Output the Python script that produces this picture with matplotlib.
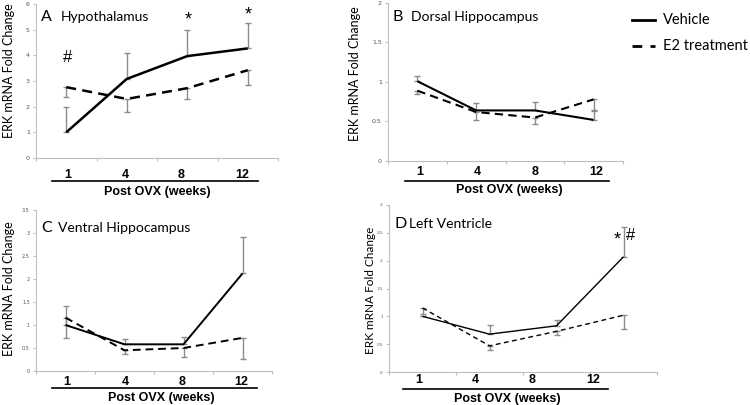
import matplotlib
matplotlib.use("Agg")
import matplotlib.pyplot as plt
from matplotlib.lines import Line2D

W, H = 750, 405

weeks = ["1", "4", "8", "12"]

# panel A - Hypothalamus
hyp_vehicle = [1.0, 3.08, 3.97, 4.27]
hyp_vehicle_err = [1.0, 1.0, 1.0, 0.98]
hyp_e2 = [2.76, 2.3, 2.72, 3.42]
hyp_e2_err = [0.38, 0.5, 0.43, 0.58]

# panel B - Dorsal Hippocampus
dor_vehicle = [1.01, 0.64, 0.64, 0.52]
dor_vehicle_err = [0.06, 0.09, 0.11, 0.11]
dor_e2 = [0.89, 0.62, 0.55, 0.78]
dor_e2_err = [0.04, 0.1, 0.08, 0.13]

# panel C - Ventral Hippocampus
ven_vehicle = [1.0, 0.58, 0.58, 2.12]
ven_vehicle_err = [0.42, 0.12, 0.16, 0.8]
ven_e2 = [1.16, 0.45, 0.5, 0.72]
ven_e2_err = [0.44, 0.07, 0.2, 0.46]

# panel D - Left Ventricle
lv_vehicle = [1.0, 0.68, 0.83, 2.07]
lv_vehicle_err = [0.0, 0.17, 0.1, 0.53]
lv_e2 = [1.15, 0.47, 0.73, 1.02]
lv_e2_err = [0.1, 0.08, 0.07, 0.24]

fig = plt.figure(figsize=(W / 100, H / 100), dpi=100)

TITLE_FONT = ["Lato", "DejaVu Sans"]
BOLD_FONT = ["Liberation Sans", "DejaVu Sans"]
GRID = "#bfbfbf"
ERR = "#8c8c8c"


def fx(x):
    return x / W


def fy(y):
    return 1 - y / H


def make_panel(box, ymax, ystep, veh, veh_err, e2, e2_err, lw, dash, tick_fs):
    left, top, right, bottom = box
    ax = fig.add_axes([fx(left), fy(bottom), fx(right - left), (bottom - top) / H])
    x = list(range(len(weeks)))
    zeros = [0] * len(weeks)
    ax.errorbar(x, veh, yerr=[zeros, veh_err], fmt="none", ecolor=ERR,
                elinewidth=1, capsize=2.5, capthick=1)
    ax.errorbar(x, e2, yerr=[e2_err, zeros], fmt="none", ecolor=ERR,
                elinewidth=1, capsize=2.5, capthick=1)
    ax.plot(x, veh, color="black", lw=lw, solid_capstyle="butt")
    ax.plot(x, e2, color="black", lw=lw, linestyle=(0, dash))
    ax.set_xlim(-0.5, 3.5)
    ax.set_ylim(0, ymax)
    yt = [i * ystep for i in range(int(round(ymax / ystep)) + 1)]
    ax.set_yticks(yt)
    ax.set_yticklabels([("%g" % v) for v in yt])
    ax.set_xticks([-0.5, 0.5, 1.5, 2.5, 3.5])
    ax.set_xticklabels([])
    for s in ["top", "right"]:
        ax.spines[s].set_visible(False)
    for s in ["left", "bottom"]:
        ax.spines[s].set_color(GRID)
        ax.spines[s].set_linewidth(0.8)
    ax.tick_params(axis="both", colors=GRID, length=2.5, width=0.8,
                   labelsize=tick_fs, labelcolor="#555555", pad=2)
    ax.patch.set_alpha(0)
    return ax


def panel_text(letter, name, lx, nx, ty, label_xs, label_y, line_x, line_y,
               xlabel_x, xlabel_y, ylab_x, ylab_y, ylab_fs=9):
    fig.text(fx(lx), fy(ty), letter, fontsize=11.5, family=TITLE_FONT,
             va="center", ha="left")
    fig.text(fx(nx), fy(ty), name, fontsize=10, family=TITLE_FONT,
             va="center", ha="left")
    for lab, x in zip(weeks, label_xs):
        fig.text(fx(x), fy(label_y), lab, fontsize=9, fontweight="bold",
                 family=BOLD_FONT, ha="center", va="center")
    fig.add_artist(Line2D([fx(line_x[0]), fx(line_x[1])], [fy(line_y), fy(line_y)],
                          color="black", lw=1.2, transform=fig.transFigure))
    fig.text(fx(xlabel_x), fy(xlabel_y), "Post OVX (weeks)", fontsize=9,
             fontweight="bold", family=BOLD_FONT, ha="center", va="center")
    fig.text(fx(ylab_x), fy(ylab_y), "ERK mRNA Fold Change", fontsize=ylab_fs,
             family=TITLE_FONT, rotation=90, ha="center", va="center")


# A
make_panel((36, 4, 278, 158), 6, 1, hyp_vehicle, hyp_vehicle_err, hyp_e2,
           hyp_e2_err, 1.8, (4, 2.5), 4.5)
panel_text("A", "Hypothalamus", 41, 61, 17, [68, 125, 181, 242], 175,
           (52, 258), 181, 157, 192, 9, 71)
fig.text(fx(68), fy(58), "#", fontsize=12, ha="center", va="center",
         family=BOLD_FONT)
fig.text(fx(188), fy(20), "*", fontsize=13, ha="center", va="center",
         family=BOLD_FONT)
fig.text(fx(248), fy(15), "*", fontsize=13, ha="center", va="center",
         family=BOLD_FONT)

# B
make_panel((388, 3, 623, 161), 2, 0.5, dor_vehicle, dor_vehicle_err, dor_e2,
           dor_e2_err, 1.5, (4, 2.5), 4.5)
panel_text("B", "Dorsal Hippocampus", 393, 411, 17, [420, 477, 535, 596], 172,
           (405, 609), 181, 509, 190, 355, 74)

# C
make_panel((36, 210, 272, 371), 3.5, 0.5, ven_vehicle, ven_vehicle_err, ven_e2,
           ven_e2_err, 1.4, (4, 2.5), 3.5)
panel_text("C", "Ventral Hippocampus", 41, 58, 228, [67, 125, 182, 241], 382,
           (52, 257), 388, 161, 398, 9, 289)

# D
make_panel((389, 205, 657, 372), 3, 0.5, lv_vehicle, lv_vehicle_err, lv_e2,
           lv_e2_err, 1.0, (3.5, 2.5), 3)
panel_text("D", "Left Ventricle", 394, 409, 224, [419, 475, 532, 593], 380,
           (403, 608), 389, 507, 399, 370, 290, ylab_fs=8.5)
fig.text(fx(617), fy(240), "*", fontsize=13, ha="center", va="center",
         family=BOLD_FONT)
fig.text(fx(631), fy(236), "#", fontsize=12, ha="center", va="center",
         family=BOLD_FONT)

# legend
fig.add_artist(Line2D([fx(632), fx(655)], [fy(20), fy(20)], color="black",
                      lw=2, transform=fig.transFigure))
fig.add_artist(Line2D([fx(632), fx(655)], [fy(46), fy(46)], color="black",
                      lw=2, linestyle=(0, (3.5, 3)), transform=fig.transFigure))
fig.text(fx(663), fy(20), "Vehicle", fontsize=10.5, family=TITLE_FONT,
         va="center", ha="left")
fig.text(fx(663), fy(46), "E2 treatment", fontsize=10.5, family=TITLE_FONT,
         va="center", ha="left")

fig.savefig("out.png", dpi=100)
